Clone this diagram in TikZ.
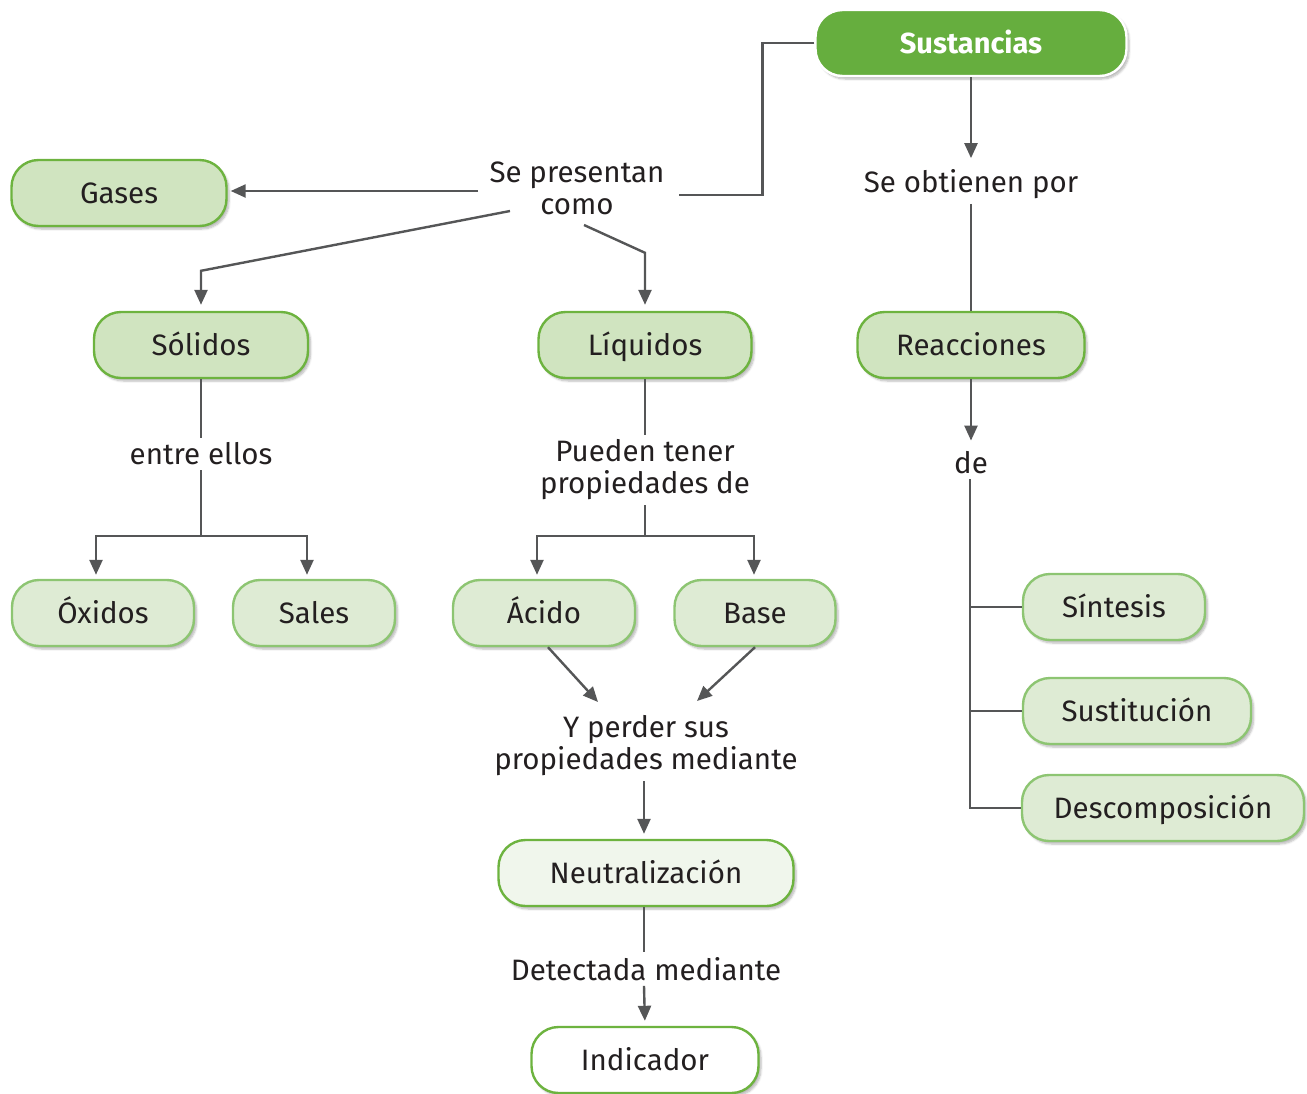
\documentclass[tikz,border=0pt]{standalone}
\usepackage{fontspec}
\setmainfont{Fira Sans}
\usetikzlibrary{arrows.meta,shadows.blur,calc}

\definecolor{gmain}{HTML}{66AE3E}
\definecolor{gdark}{HTML}{6DB33F}
\definecolor{glight}{HTML}{8DC572}
\definecolor{fillA}{HTML}{D0E4C0}
\definecolor{fillB}{HTML}{DEEBD4}
\definecolor{fillC}{HTML}{F0F6EC}
\definecolor{linec}{HTML}{555657}
\definecolor{textc}{HTML}{231F20}

\tikzset{
  txt/.style={font=\fontsize{29.5}{32}\selectfont, text=textc},
  box/.style={txt, rounded corners=27pt, line width=2.4pt, minimum height=66pt,
    inner sep=0pt, align=center, text height=23pt, text depth=2pt,
    blur shadow={shadow xshift=2.5pt, shadow yshift=-3pt, shadow blur steps=6,
      shadow blur extra rounding=3pt, shadow opacity=28}},
  topbox/.style={box, fill=gmain, draw=white, text=white, font=\fontsize{29}{32}\selectfont\bfseries},
  boxA/.style={box, fill=fillA, draw=gdark},
  boxB/.style={box, fill=fillB, draw=glight},
  boxC/.style={box, fill=fillC, draw=gdark},
  boxD/.style={box, fill=white, draw=gdark},
  lbl/.style={txt, align=center, inner sep=5pt},
  conn/.style={draw=linec, line width=2.4pt},
  arr/.style={conn, -{Triangle[length=15pt,width=13pt]}},
}

\begin{document}
\begin{tikzpicture}[x=1pt,y=-1pt]
\useasboundingbox (0,0) rectangle (1307,1093);

% main node
\node[topbox, minimum width=311pt] (sus) at (971,43) {Sustancias};

% first level
\node[boxA, minimum width=215pt] (gas) at (119,193) {Gases};
\node[boxA, minimum width=214pt] (sol) at (201,345) {Sólidos};
\node[boxA, minimum width=213pt] (liq) at (645,345) {Líquidos};
\node[boxA, minimum width=227pt] (rea) at (971,345) {Reacciones};

% second level
\node[boxB, minimum width=182pt] (oxi) at (103,613) {Óxidos};
\node[boxB, minimum width=162pt] (sal) at (314,613) {Sales};
\node[boxB, minimum width=182pt] (aci) at (544,613) {Ácido};
\node[boxB, minimum width=161pt] (bas) at (755,613) {Base};
\node[boxB, minimum width=182pt] (sin) at (1114,607) {Síntesis};
\node[boxB, minimum width=228pt] (sut) at (1137,711) {Sustitución};
\node[boxB, minimum width=282pt] (des) at (1163,808) {Descomposición};

% lower chain
\node[boxC, minimum width=295pt] (neu) at (646,873) {Neutralización};
\node[boxD, minimum width=227pt] (ind) at (645,1060) {Indicador};

% linking phrases
\node[lbl] (pre) at (577,188) {Se presentan\\como};
\node[lbl] (obt) at (971,184) {Se obtienen por};
\node[lbl] (ent) at (201,454) {entre ellos};
\node[lbl] (pue) at (645,470) {Pueden tener\\propiedades de};
\node[lbl] (de)  at (971,463) {de};
\node[lbl] (per) at (646,746) {Y perder sus\\propiedades mediante};
\node[lbl] (det) at (646,969) {Detectada mediante};

% free ends around "Se presentan como"
\coordinate (preR) at (679,195);
\coordinate (preL) at (478,191);
\coordinate (preS) at (510,211);
\coordinate (preQ) at (584,225);

% Sustancias -> Se presentan como
\draw[conn] (sus.west) -- ++(-52,0) |- (preR);
\draw[arr, shorten >=3pt] (preL) -- (preL -| gas.east);
\draw[arr, shorten >=6pt] (preS) -- ($(sol.north)+(0,-40)$) -- (sol.north);
\draw[arr, shorten >=6pt] (preQ) -- ($(liq.north)+(0,-58)$) -- (liq.north);

% Sustancias -> Se obtienen por -> Reacciones
\draw[arr] (sus.south) -- ($(obt.north)+(0,-6)$);
\draw[conn] (obt.south) -- (rea.north);

% Sólidos branch
\coordinate (solJ) at (201,536);
\draw[conn] (sol.south) -- (ent.north);
\draw[conn] (ent.south) -- (solJ);
\draw[arr, shorten >=4pt] (solJ) -| ([xshift=-7pt]oxi.north);
\draw[arr, shorten >=4pt] (solJ) -| ([xshift=-7pt]sal.north);

% Líquidos branch
\coordinate (liqJ) at (645,536);
\draw[conn] (liq.south) -- (pue.north);
\draw[conn] (pue.south) -- (liqJ);
\draw[arr, shorten >=4pt] (liqJ) -| ([xshift=-7pt]aci.north);
\draw[arr, shorten >=4pt] (liqJ) -| ([xshift=-1pt]bas.north);

% Reacciones branch
\draw[arr] (rea.south) -- ($(de.north)+(0,-6)$);
\draw[conn] ([xshift=-1pt]de.south) |- (des.west);
\draw[conn] (sin.west) -- (sin.west -| de.south);
\draw[conn] (sut.west) -- (sut.west -| de.south);

% Ácido / Base -> Neutralización -> Indicador
\coordinate (perL) at (598,702);
\coordinate (perR) at (697,701);
\draw[arr] ([xshift=4pt]aci.south) -- (perL);
\draw[arr] (bas.south) -- (perR);
\draw[arr, shorten >=5pt] ([xshift=-2pt]per.south) -- ([xshift=-2pt]neu.north);
\draw[conn] ([xshift=-2pt]neu.south) -- ([xshift=-2pt]det.north);
\draw[arr, shorten >=5pt] ([xshift=-2pt]det.south) -- (ind.north);
\end{tikzpicture}
\end{document}
